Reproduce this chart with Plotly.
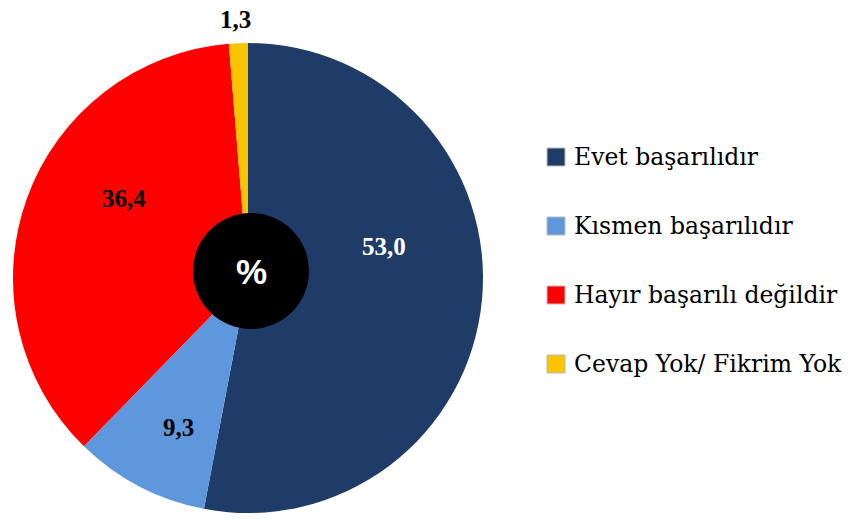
import plotly.graph_objects as go

categories = ["Evet başarılıdır", "Kısmen başarılıdır", "Hayır başarılı değildir", "Cevap Yok/ Fikrim Yok"]
values = [53.0, 9.3, 36.4, 1.3]
colors = ["#1f3c69", "#5f97dd", "#ff0000", "#f8c500"]
label_colors = ["white", "black", "black", "black"]
# label anchor positions in pixels (style, not data)
label_pos = [(384, 246), (178, 427), (124, 199), (235, 19)]

W, H = 856, 519
cx, cy, R = 248, 278, 235

fig = go.Figure()
fig.add_trace(go.Pie(
    labels=categories,
    values=values,
    sort=False,
    direction="clockwise",
    rotation=0,
    marker=dict(colors=colors, line=dict(width=0)),
    textinfo="none",
    hoverinfo="label+value",
    showlegend=False,
    domain=dict(x=[(cx - R) / W, (cx + R) / W], y=[1 - (cy + R) / H, 1 - (cy - R) / H]),
))

annotations = []
for v, c, (px, py) in zip(values, label_colors, label_pos):
    annotations.append(dict(
        x=px / W, y=1 - py / H, xref="paper", yref="paper",
        text="<b>" + f"{v:.1f}".replace(".", ",") + "</b>",
        showarrow=False, font=dict(family="Liberation Serif, serif", size=25, color=c),
        xanchor="center", yanchor="middle"))

# centre badge
bx, by, br = 251, 271, 58
shapes = [dict(type="circle", xref="paper", yref="paper",
               x0=(bx - br) / W, x1=(bx + br) / W, y0=1 - (by + br) / H, y1=1 - (by - br) / H,
               fillcolor="black", line=dict(width=0))]
annotations.append(dict(x=bx / W, y=1 - by / H, xref="paper", yref="paper", text="<b>%</b>",
                        showarrow=False, font=dict(family="Liberation Sans, Arial, sans-serif", size=35, color="white"),
                        xanchor="center", yanchor="middle"))

# legend
leg_x, leg_y0, leg_dy, sq = 547, 157, 69, 18
for i, (cat, col) in enumerate(zip(categories, colors)):
    yy = leg_y0 + i * leg_dy
    shapes.append(dict(type="rect", xref="paper", yref="paper",
                       x0=leg_x / W, x1=(leg_x + sq) / W,
                       y0=1 - (yy + sq / 2) / H, y1=1 - (yy - sq / 2) / H,
                       fillcolor=col, line=dict(width=1, color="#bbbbbb")))
    annotations.append(dict(x=(leg_x + sq + 7) / W, y=1 - yy / H, xref="paper", yref="paper",
                            text=cat, showarrow=False, xanchor="left", yanchor="middle",
                            font=dict(family="DejaVu Serif, serif", size=23.5, color="black")))

fig.update_layout(width=W, height=H, margin=dict(l=0, r=0, t=0, b=0),
                  paper_bgcolor="white", plot_bgcolor="white",
                  shapes=shapes, annotations=annotations)
fig.write_html("out.html", config={"displayModeBar": False},
               post_script="document.body.style.margin='0';")
